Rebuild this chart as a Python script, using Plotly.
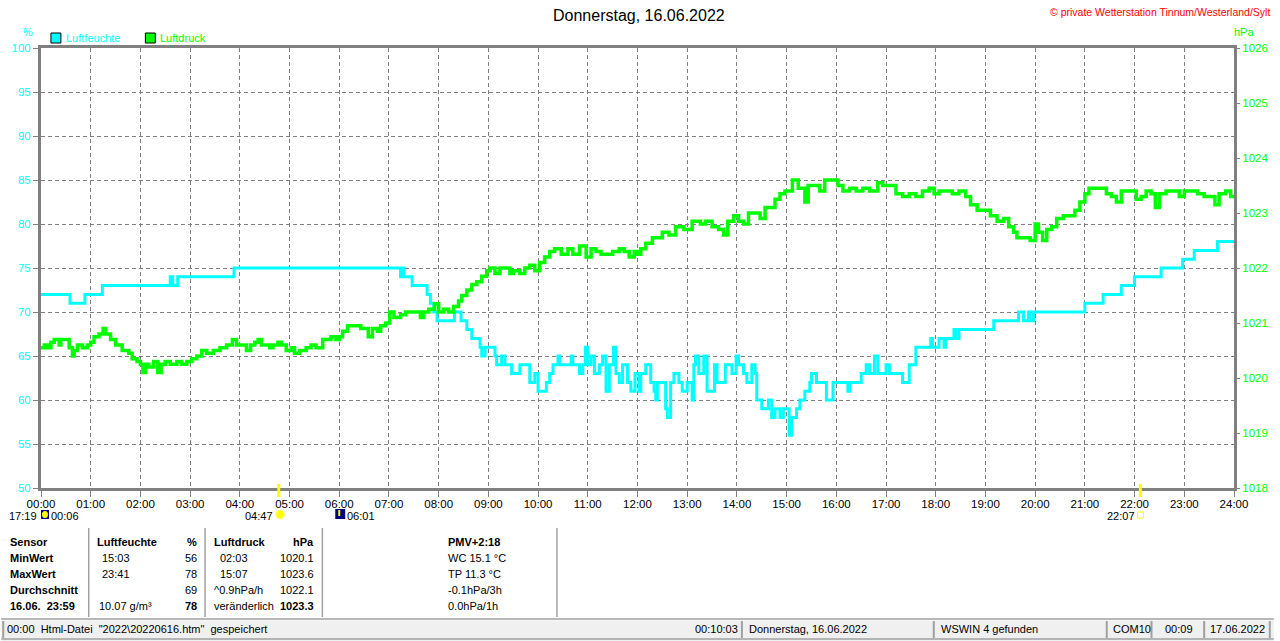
import plotly.graph_objects as go

# ---------------- data ----------------
hum_time = ["00:00", "00:35", "00:53", "01:14", "02:36", "02:39", "02:45", "03:53",
            "07:14", "07:16", "07:18", "07:20", "07:28", "07:46", "07:50", "07:54", "07:58",
            "08:19", "08:27", "08:34", "08:40", "08:50", "08:52", "08:56", "09:08", "09:10",
            "09:16", "09:20", "09:28", "09:38", "09:50", "09:56", "10:00", "10:10", "10:14",
            "10:18", "10:24", "10:26", "10:40", "10:42", "10:50", "10:54", "10:57", "11:00",
            "11:04", "11:08", "11:14", "11:18", "11:22", "11:26", "11:31", "11:34", "11:38",
            "11:42", "11:48", "11:52", "11:57",
            "12:00", "12:02", "12:04", "12:10", "12:16", "12:20", "12:22", "12:24", "12:34",
            "12:36", "12:40", "12:44", "12:50", "12:54", "13:00", "13:06", "13:08", "13:10",
            "13:14", "13:20", "13:24", "13:33", "13:36", "13:46", "13:54", "13:59", "14:02",
            "14:08", "14:12", "14:18", "14:22", "14:24", "14:30", "14:38", "14:42", "14:46",
            "14:52", "14:56", "15:03", "15:06", "15:12", "15:16", "15:22", "15:28", "15:30",
            "15:36", "15:48", "15:56", "16:02", "16:14", "16:16", "16:30", "16:36", "16:40",
            "16:46", "16:50", "17:00", "17:04", "17:20", "17:28", "17:36", "17:54", "17:56",
            "18:04", "18:10", "18:12", "18:22", "18:24", "18:28", "19:10", "19:40", "19:46",
            "19:52", "19:54", "19:58", "21:00", "21:22", "21:44", "22:00", "22:32", "22:58",
            "23:12", "23:40", "24:00"]
hum_val = [72, 71, 72, 73, 74, 73, 74, 75,
           74, 75, 74, 74, 73, 72, 71, 70, 69,
           70, 69, 68, 67, 66, 65, 66, 65, 64,
           65, 64, 63, 64, 62, 63, 61, 62, 63,
           64, 65, 64, 65, 64, 63, 64, 66, 64,
           65, 63, 64, 65, 61, 64, 66, 63, 62,
           64, 62, 61, 63,
           63, 61, 63, 64, 62, 61, 60, 62, 59,
           58, 62, 63, 62, 61, 62, 60, 64, 65,
           63, 65, 61, 64, 62, 64, 63, 65, 64,
           63, 62, 64, 63, 60, 59, 60, 58, 59,
           58, 59, 56, 58, 59, 60, 61, 62, 63,
           62, 60, 62, 62, 61, 62, 63, 64, 63,
           65, 63, 64, 63, 62, 64, 66, 67, 66,
           67, 66, 67, 68, 67, 68, 69, 70, 69,
           70, 69, 70, 71, 72, 73, 74, 75, 76,
           77, 78, 78]

pres_time = ["00:00", "00:04", "00:08", "00:12", "00:16", "00:22", "00:24", "00:30", "00:34",
             "00:38", "00:40", "00:44", "00:50", "00:56", "01:00", "01:04", "01:10", "01:15",
             "01:18", "01:24", "01:30", "01:38", "01:46", "01:50", "01:56", "02:00", "02:03",
             "02:06", "02:10", "02:16", "02:21", "02:25", "02:30", "02:36", "02:44", "02:50",
             "02:56", "03:02", "03:08", "03:14", "03:20", "03:28", "03:36", "03:44", "03:51",
             "03:56", "04:04", "04:08", "04:13", "04:18", "04:22", "04:26", "04:36", "04:40",
             "04:46", "04:50", "04:56", "05:02", "05:06", "05:12", "05:20", "05:26", "05:32",
             "05:40", "05:50", "05:56",
             "06:00", "06:04", "06:10", "06:18", "06:26", "06:35", "06:40", "06:46", "06:50",
             "06:56", "07:01", "07:06", "07:14", "07:20", "07:28", "07:38", "07:42", "07:48",
             "07:55", "08:00", "08:06", "08:12", "08:18", "08:24", "08:28", "08:34", "08:40",
             "08:46", "08:52", "08:58", "09:02", "09:08", "09:14", "09:20", "09:26", "09:30",
             "09:38", "09:44", "09:50", "09:56", "10:02", "10:08", "10:14", "10:20", "10:28",
             "10:36", "10:42", "10:50", "10:58", "11:04", "11:10", "11:16", "11:24", "11:30",
             "11:38", "11:44", "11:50", "11:56",
             "12:00", "12:04", "12:10", "12:18", "12:26", "12:30", "12:38", "12:46", "12:56",
             "13:06", "13:16", "13:22", "13:30", "13:38", "13:44", "13:49", "13:56", "14:02",
             "14:08", "14:14", "14:22", "14:28", "14:34", "14:40", "14:46", "14:52", "14:58",
             "15:04", "15:07", "15:14", "15:22", "15:26", "15:34", "15:40", "15:46", "15:58",
             "16:02", "16:08", "16:16", "16:24", "16:32", "16:40", "16:50", "16:56", "17:08",
             "17:12", "17:20", "17:28", "17:36", "17:44", "17:52", "17:58",
             "18:00", "18:04", "18:12", "18:20", "18:28", "18:36", "18:42", "18:50", "19:00",
             "19:06", "19:14", "19:22", "19:28", "19:34", "19:38", "19:46", "19:54", "20:00",
             "20:04", "20:09", "20:14", "20:20", "20:26", "20:34", "20:42", "20:48", "20:54",
             "21:00", "21:05", "21:12", "21:20", "21:26", "21:32", "21:38", "21:44", "21:50",
             "21:58", "22:02", "22:08", "22:14", "22:20", "22:25", "22:30", "22:38", "22:46",
             "22:54", "23:00", "23:08", "23:16", "23:24", "23:32", "23:37", "23:42", "23:50",
             "23:56", "24:00"]
pres_val = [1020.55, 1020.6, 1020.55, 1020.65, 1020.7, 1020.6, 1020.7, 1020.7, 1020.55,
            1020.4, 1020.5, 1020.6, 1020.55, 1020.6, 1020.65, 1020.75, 1020.8, 1020.9,
            1020.8, 1020.7, 1020.6, 1020.5, 1020.45, 1020.35, 1020.3, 1020.25, 1020.1,
            1020.25, 1020.2, 1020.3, 1020.1, 1020.25, 1020.3, 1020.25, 1020.3, 1020.25,
            1020.3, 1020.35, 1020.4, 1020.5, 1020.45, 1020.5, 1020.55, 1020.6, 1020.7,
            1020.6, 1020.6, 1020.5, 1020.6, 1020.65, 1020.7, 1020.6, 1020.55, 1020.6,
            1020.65, 1020.6, 1020.5, 1020.55, 1020.45, 1020.5, 1020.55, 1020.6, 1020.55,
            1020.7, 1020.75, 1020.7,
            1020.75, 1020.85, 1020.95, 1020.95, 1020.9, 1020.75, 1020.9, 1020.85, 1020.95,
            1021.0, 1021.2, 1021.1, 1021.15, 1021.2, 1021.2, 1021.1, 1021.2, 1021.25,
            1021.35, 1021.2, 1021.25, 1021.2, 1021.3, 1021.4, 1021.5, 1021.6, 1021.7,
            1021.75, 1021.85, 1021.95, 1022.0, 1021.9, 1022.0, 1022.0, 1021.9, 1021.95,
            1021.9, 1022.0, 1022.05, 1021.95, 1022.1, 1022.2, 1022.3, 1022.35, 1022.25,
            1022.35, 1022.25, 1022.4, 1022.2, 1022.35, 1022.3, 1022.25, 1022.25, 1022.3,
            1022.35, 1022.3, 1022.2, 1022.3,
            1022.25, 1022.35, 1022.45, 1022.55, 1022.55, 1022.65, 1022.6, 1022.75, 1022.7,
            1022.85, 1022.8, 1022.85, 1022.75, 1022.7, 1022.6, 1022.85, 1022.95, 1022.85,
            1022.8, 1023.0, 1023.0, 1022.9, 1023.1, 1023.1, 1023.25, 1023.35, 1023.4,
            1023.4, 1023.6, 1023.45, 1023.2, 1023.5, 1023.5, 1023.4, 1023.6, 1023.6,
            1023.5, 1023.4, 1023.45, 1023.4, 1023.45, 1023.4, 1023.55, 1023.5, 1023.5,
            1023.35, 1023.3, 1023.35, 1023.3, 1023.4, 1023.45, 1023.35,
            1023.35, 1023.4, 1023.4, 1023.35, 1023.4, 1023.3, 1023.15, 1023.05, 1023.05,
            1022.95, 1022.85, 1022.9, 1022.75, 1022.65, 1022.55, 1022.55, 1022.5, 1022.8,
            1022.65, 1022.5, 1022.7, 1022.75, 1022.9, 1022.95, 1022.95, 1023.05, 1023.2,
            1023.35, 1023.45, 1023.45, 1023.45, 1023.35, 1023.3, 1023.2, 1023.4, 1023.4,
            1023.4, 1023.25, 1023.3, 1023.4, 1023.35, 1023.1, 1023.35, 1023.4, 1023.4,
            1023.3, 1023.4, 1023.4, 1023.35, 1023.3, 1023.3, 1023.15, 1023.35, 1023.4,
            1023.3, 1023.3]

hour_ticks = list(range(0, 25))
hour_labels = ["%02d:00" % h for h in hour_ticks]
hum_ticks = list(range(50, 101, 5))
pres_ticks = list(range(1018, 1027))

title_text = "Donnerstag, 16.06.2022"
copyright_text = "© private Wetterstation Tinnum/Westerland/Sylt"
sunrise, sunset = "04:47", "22:07"
moon_set, moon_rise = "17:19", "00:06"
dawn = "06:01"

table_rows = [
    ("Sensor", "Luftfeuchte", "%", "Luftdruck", "hPa", "PMV+2:18"),
    ("MinWert", "15:03", "56", "02:03", "1020.1", "WC 15.1 °C"),
    ("MaxWert", "23:41", "78", "15:07", "1023.6", "TP 11.3 °C"),
    ("Durchschnitt", "", "69", "^0.9hPa/h", "1022.1", "-0.1hPa/3h"),
    ("16.06.  23:59", "10.07 g/m³", "78", "veränderlich", "1023.3", "0.0hPa/1h"),
]
status_items = [
    ("00:00  Html-Datei  \"2022\\20220616.htm\"  gespeichert", 2, 745, "left"),
    ("00:10:03", 2, 745, "right"),
    ("Donnerstag, 16.06.2022", 748, 938, "left"),
    ("WSWIN 4 gefunden", 941, 1112, "left"),
    ("COM10", 1114, 1157, "left"),
    ("00:09", 1159, 1210, "center"),
    ("17.06.2022", 1212, 1276, "center"),
]

# ---------------- helpers ----------------
def hrs(t):
    h, m = t.split(":")
    return int(h) + int(m) / 60.0

W, H = 1280, 641
L, R, T, B = 40, 1240, 48, 488

def px(x):
    return (x - L) / (R - L)

def py(y):
    return (B - y) / (B - T)

CYAN = "#00FFFF"
GREEN = "#00FF00"
GRAY = "#808080"
FONT = "Liberation Sans"

fig = go.Figure()
fig.add_trace(go.Scatter(
    x=[hrs(t) for t in pres_time], y=pres_val, yaxis="y2", mode="lines",
    line=dict(color=GREEN, width=3.5, shape="hv"), name="Luftdruck", hoverinfo="skip"))
fig.add_trace(go.Scatter(
    x=[hrs(t) for t in hum_time], y=hum_val, mode="lines",
    line=dict(color=CYAN, width=3, shape="hv"), name="Luftfeuchte", hoverinfo="skip"))

ann = []
shapes = []

def text(x, y, s, color="black", size=11, anchor="left", bold=False, yanchor="middle"):
    ann.append(dict(x=px(x), y=py(y), xref="paper", yref="paper", text=("<b>%s</b>" % s) if bold else s,
                    showarrow=False, xanchor=anchor, yanchor=yanchor, borderpad=0,
                    font=dict(family=FONT, size=size, color=color)))

def rect(x0, y0, x1, y1, fill, line=None, lw=1):
    shapes.append(dict(type="rect", xref="paper", yref="paper", x0=px(x0), x1=px(x1), y0=py(y0), y1=py(y1),
                       fillcolor=fill, line=dict(color=line or fill, width=lw if line else 0), layer="above"))

def line(x0, y0, x1, y1, color, lw=1):
    shapes.append(dict(type="line", xref="paper", yref="paper", x0=px(x0), x1=px(x1), y0=py(y0), y1=py(y1),
                       line=dict(color=color, width=lw), layer="above"))

# title & header
text(642, 15, title_text, size=16, anchor="center")
text(1277, 12, copyright_text, color="#FF0000", size=10.5, anchor="right")
text(27, 32, "%", color=CYAN, size=11, anchor="center")
text(1250, 32, "hPa", color=GREEN, size=11, anchor="center")
# legend
rect(50, 33, 60, 43, CYAN, "black", 1)
text(64, 38, "Luftfeuchte", color=CYAN, size=11)
rect(145, 33, 155, 43, GREEN, "black", 1)
text(159, 38, "Luftdruck", color=GREEN, size=11)

# sun / moon markers
sx = L + hrs(sunrise) * 50
ex = L + hrs(sunset) * 50
line(sx, 484, sx, 497, "#FFFF00", 3)
line(ex, 484, ex, 497, "#FFFF00", 3)
ry = 516
text(37, ry, moon_set, anchor="right")
rect(40, 510, 48, 519, "#000080")
shapes.append(dict(type="circle", xref="paper", yref="paper", x0=px(41), x1=px(47), y0=py(511), y1=py(518),
                   fillcolor="#FFFF00", line=dict(width=0), layer="above"))
text(49, ry, moon_rise, anchor="left")
text(274, ry, sunrise, anchor="right")
shapes.append(dict(type="circle", xref="paper", yref="paper", x0=px(276), x1=px(285), y0=py(510), y1=py(519),
                   fillcolor="#FFFF00", line=dict(color="#FFFFA0", width=1), layer="above"))
rect(336, 509, 346, 519, "#000080")
line(340, 510, 340, 516, "#FFFF00", 2)
text(347, ry, dawn, anchor="left")
text(1141, ry, sunset, anchor="right")
rect(1143, 512, 1149, 518, "white", "#FFFF00", 1)

# table
ys = [542, 558, 574, 590, 606]
for i, row in enumerate(table_rows):
    y = ys[i]
    bold_all = i == 0
    text(8, y, row[0], bold=True)
    c1 = row[1]
    if c1:
        text(95 if i == 0 else (97 if i == 4 else 100), y, c1, bold=bold_all)
    text(198, y, row[2], anchor="right", bold=(i == 0 or i == 4))
    text(213 if i in (0, 3, 4) else 219, y, row[3], bold=bold_all)
    text(316, y, row[4], anchor="right", bold=(i == 0 or i == 4))
    text(448, y, row[5], bold=bold_all)
for xs in (88, 205, 323, 559):
    line(xs, 528, xs, 617, "#A0A0A0", 1.5)

# status bar
line(0, 619, 1280, 619, "#A0A0A0", 1.5)
rect(0, 620.5, 1280, 641, "#F0F0F0")
line(0, 639, 1280, 639, "#A0A0A0", 1.5)
for xs in (2, 745, 938, 1112, 1157, 1210, 1276):
    line(xs, 621, xs, 638, "#A0A0A0", 2)
for s, x0, x1, al in status_items:
    if al == "left":
        text(x0 + 3, 629, s)
    elif al == "right":
        text(x1 - 3, 629, s, anchor="right")
    else:
        text((x0 + x1) / 2, 629, s, anchor="center")

fig.update_layout(
    width=W, height=H,
    margin=dict(l=L, r=W - R, t=T, b=H - B, pad=0),
    paper_bgcolor="white", plot_bgcolor="white",
    showlegend=False,
    font=dict(family=FONT, size=11, color="black"),
    xaxis=dict(range=[0, 24], tickvals=hour_ticks, ticktext=hour_labels, showgrid=True,
               gridcolor=GRAY, griddash="4px,3px", gridwidth=1, zeroline=False,
               showline=True, linecolor=GRAY, linewidth=3, mirror=True,
               ticks="outside", ticklen=6, tickcolor=GRAY, tickwidth=1, ticklabelstandoff=-3,
               tickfont=dict(family=FONT, size=11.5, color="black"), fixedrange=True),
    yaxis=dict(range=[50, 100], tickvals=hum_ticks, showgrid=True,
               gridcolor=GRAY, griddash="4px,3px", gridwidth=1, zeroline=False,
               showline=True, linecolor=GRAY, linewidth=3, mirror=True,
               ticks="outside", ticklen=5, tickcolor=GRAY,
               tickfont=dict(family=FONT, size=11.5, color=CYAN), fixedrange=True),
    yaxis2=dict(range=[1018, 1026], tickvals=pres_ticks, overlaying="y", side="right",
                showgrid=False, zeroline=False, showline=False,
                ticks="outside", ticklen=5, tickcolor=GRAY,
                tickfont=dict(family=FONT, size=11.5, color=GREEN), fixedrange=True),
    annotations=ann, shapes=shapes,
)

fig.write_html("out.html", config={"displayModeBar": False},
               post_script="document.body.style.margin='0';document.body.style.overflow='hidden';")
